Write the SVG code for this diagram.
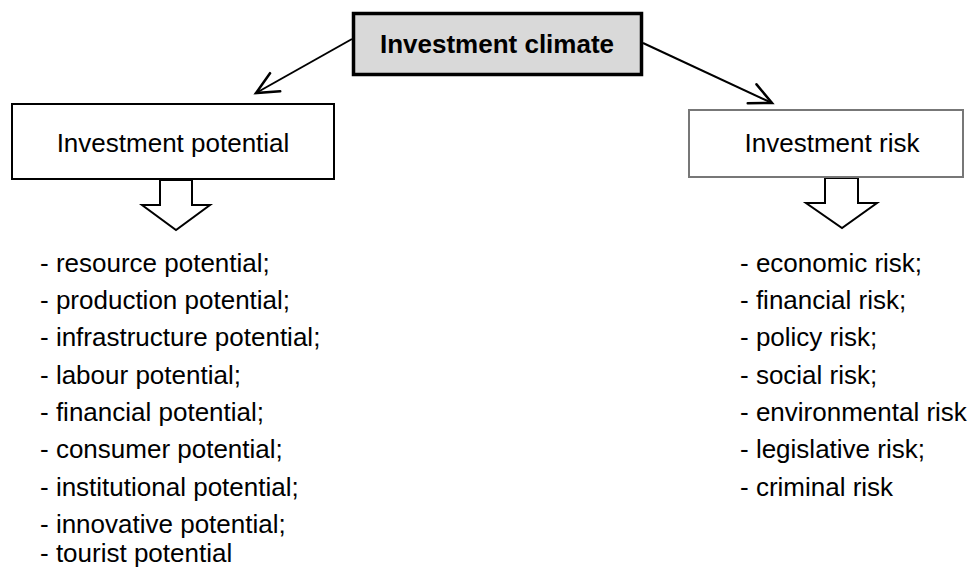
<svg xmlns="http://www.w3.org/2000/svg" width="973" height="570" viewBox="0 0 973 570">
<style>
  .t { font-family: "Liberation Sans", Arial, sans-serif; font-size: 26px; fill: #000; }
  .b { font-weight: bold; }
  .conn { stroke: #000; stroke-width: 2; fill: none; }
  .down { fill: #fff; stroke: #000; stroke-width: 2; stroke-linejoin: miter; }
</style>
<defs>
  <marker id="open" markerUnits="userSpaceOnUse" markerWidth="30" markerHeight="30" viewBox="-22 -12 26 24" refX="0" refY="0" orient="auto">
    <path d="M-19,-9 L0,0 L-19,9" fill="none" stroke="#000" stroke-width="2.2" stroke-linecap="round" stroke-linejoin="miter"/>
  </marker>
</defs>
<rect width="973" height="570" fill="#fff"/>
<g id="connectors">
  <line class="conn" x1="352" y1="39" x2="256" y2="93" marker-end="url(#open)"/>
  <line class="conn" x1="643" y1="43" x2="772" y2="103" marker-end="url(#open)"/>
  <polygon class="down" points="160,180 192,180 192,205 210,205 176,230 142,205 160,205"/>
  <polygon class="down" points="825,178 858,178 858,203 877,203 842,228 806,203 825,203"/>
</g>
<g id="climate">
  <rect x="353.5" y="13.5" width="288" height="61" fill="#d9d9d9" stroke="#000" stroke-width="3.5"/>
  <text class="t b" x="497" y="53" text-anchor="middle">Investment climate</text>
</g>
<g id="potential">
  <rect x="12" y="104" width="322" height="75" fill="#fff" stroke="#000" stroke-width="2"/>
  <text class="t" x="173" y="152" text-anchor="middle">Investment potential</text>
</g>
<g id="risk">
  <rect x="689" y="110" width="274" height="67" fill="#fff" stroke="#777" stroke-width="2"/>
  <text class="t" x="832" y="152" text-anchor="middle">Investment risk</text>
</g>
<g id="potential-list" class="t">
  <text x="40" y="272">- resource potential;</text>
  <text x="40" y="309">- production potential;</text>
  <text x="40" y="346">- infrastructure potential;</text>
  <text x="40" y="384">- labour potential;</text>
  <text x="40" y="421">- financial potential;</text>
  <text x="40" y="458">- consumer potential;</text>
  <text x="40" y="496">- institutional potential;</text>
  <text x="40" y="533">- innovative potential;</text>
  <text x="40" y="562">- tourist potential</text>
</g>
<g id="risk-list" class="t">
  <text x="740" y="272">- economic risk;</text>
  <text x="740" y="309">- financial risk;</text>
  <text x="740" y="346">- policy risk;</text>
  <text x="740" y="384">- social risk;</text>
  <text x="740" y="421">- environmental risk</text>
  <text x="740" y="458">- legislative risk;</text>
  <text x="740" y="496">- criminal risk</text>
</g>
</svg>
